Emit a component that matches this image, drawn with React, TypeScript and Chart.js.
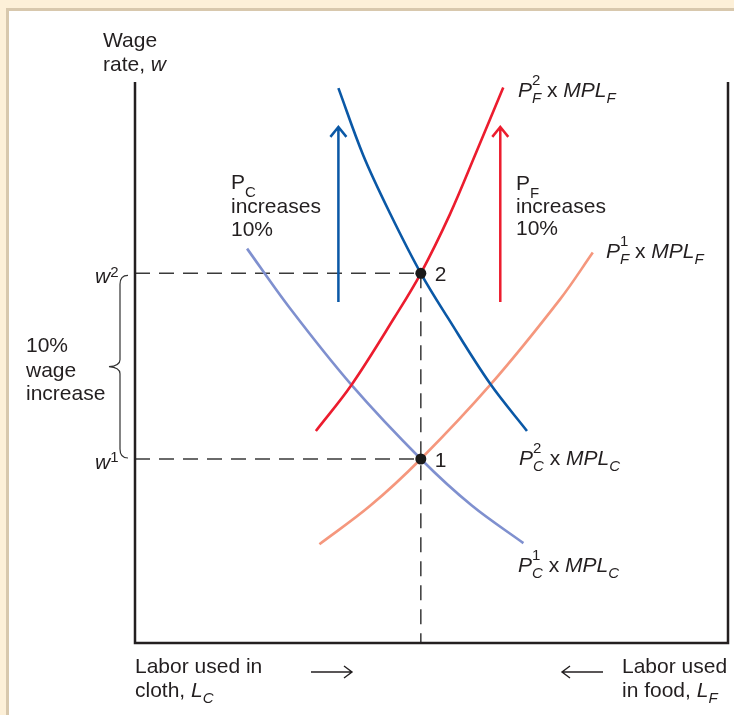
import React, { useEffect, useRef } from "react";
import { Chart, registerables } from "chart.js";

Chart.register(...registerables);

// Labor in cloth (x, 0-100 of total labor) vs wage rate (y, index 0-100)
const pc2X = [34.3, 38.5, 43.0, 48.2, 52.8, 59.9, 66.1];
const pc2Y = [98.9, 86.9, 76.6, 65.9, 57.9, 46.2, 37.8];
const pf2X = [30.5, 36.5, 43.8, 48.2, 53.1, 57.6, 62.1];
const pf2Y = [37.8, 46.0, 58.1, 65.9, 76.4, 87.6, 99.0];
const pc1X = [18.9, 26.1, 36.5, 48.2, 56.8, 65.5];
const pc1Y = [70.3, 59.7, 46.0, 32.8, 24.5, 17.8];
const pf1X = [31.1, 39.6, 48.2, 59.9, 71.7, 77.2];
const pf1Y = [17.6, 24.4, 32.8, 46.0, 61.3, 69.6];

const equilibriumL = 48.2;
const wageLevels = [32.8, 65.9]; // w1, w2
const pointLabels = ["1", "2"];

const shiftArrowX = [34.3, 61.6]; // PC arrow, PF arrow
const shiftArrowY = [60.8, 92.0]; // from, to

const FONT = '"Liberation Sans", Arial, Helvetica, sans-serif';
const FS = 21;
const FS_SMALL = 15;
const C_DARKBLUE = "#0a58a6";
const C_RED = "#ec1c2e";
const C_SALMON = "#f5977d";
const C_LIGHTBLUE = "#7f90cf";
const C_INK = "#231f20";

const toXY = (xs: number[], ys: number[]) => xs.map((x, i) => ({ x, y: ys[i] }));

type Part = { t: string; i?: boolean; dy?: number; s?: number; keep?: boolean };

function rich(ctx: CanvasRenderingContext2D, x: number, y: number, parts: Part[]) {
  let cx = x;
  for (const p of parts) {
    ctx.font = `${p.i ? "italic " : ""}${p.s || FS}px ${FONT}`;
    ctx.fillText(p.t, cx, y + (p.dy || 0));
    if (!p.keep) cx += ctx.measureText(p.t).width;
  }
}

const diagramPlugin = {
  id: "diagram",
  beforeDraw(chart: any) {
    const ctx = chart.ctx as CanvasRenderingContext2D;
    const W = chart.width, H = chart.height;
    ctx.save();
    ctx.fillStyle = "#fdf0d8";
    ctx.fillRect(0, 0, W, H);
    ctx.fillStyle = "#d8c8ad";
    ctx.fillRect(6, 8, W - 6, H - 8);
    ctx.fillStyle = "#ffffff";
    ctx.fillRect(9, 11, W - 9, H - 11);
    ctx.restore();
  },
  afterDraw(chart: any) {
    const ctx = chart.ctx as CanvasRenderingContext2D;
    const xs = chart.scales.x, ys = chart.scales.y;
    const a = chart.chartArea;
    ctx.save();
    // frame
    ctx.strokeStyle = C_INK;
    ctx.lineWidth = 2.5;
    ctx.beginPath();
    ctx.moveTo(a.left, a.top);
    ctx.lineTo(a.left, a.bottom);
    ctx.lineTo(a.right, a.bottom);
    ctx.lineTo(a.right, a.top);
    ctx.stroke();

    // shift arrows
    const arrowColors = [C_DARKBLUE, C_RED];
    shiftArrowX.forEach((vx, k) => {
      const px = xs.getPixelForValue(vx);
      const y0 = ys.getPixelForValue(shiftArrowY[0]);
      const y1 = ys.getPixelForValue(shiftArrowY[1]);
      ctx.strokeStyle = arrowColors[k];
      ctx.lineWidth = 2.5;
      ctx.beginPath();
      ctx.moveTo(px, y0);
      ctx.lineTo(px, y1);
      ctx.moveTo(px - 8, y1 + 10);
      ctx.lineTo(px, y1);
      ctx.lineTo(px + 8, y1 + 10);
      ctx.stroke();
    });

    // brace
    const bTop = ys.getPixelForValue(wageLevels[1]) + 2;
    const bBot = ys.getPixelForValue(wageLevels[0]) - 1;
    const bMid = (bTop + bBot) / 2;
    const bx = a.left - 15;
    ctx.strokeStyle = "#333";
    ctx.lineWidth = 1.2;
    ctx.beginPath();
    ctx.moveTo(bx + 8, bTop);
    ctx.quadraticCurveTo(bx, bTop, bx, bTop + 9);
    ctx.lineTo(bx, bMid - 7);
    ctx.quadraticCurveTo(bx, bMid - 1, bx - 11, bMid);
    ctx.quadraticCurveTo(bx, bMid + 1, bx, bMid + 7);
    ctx.lineTo(bx, bBot - 9);
    ctx.quadraticCurveTo(bx, bBot, bx + 8, bBot);
    ctx.stroke();

    // texts
    ctx.fillStyle = C_INK;
    ctx.textBaseline = "alphabetic";
    ctx.textAlign = "left";
    rich(ctx, 103, 47, [{ t: "Wage" }]);
    rich(ctx, 103, 71, [{ t: "rate, " }, { t: "w", i: true }]);

    const yw1 = ys.getPixelForValue(wageLevels[0]);
    const yw2 = ys.getPixelForValue(wageLevels[1]);
    rich(ctx, 95, yw2 + 10, [{ t: "w", i: true }, { t: "2", s: FS_SMALL, dy: -6 }]);
    rich(ctx, 95, yw1 + 10, [{ t: "w", i: true }, { t: "1", s: FS_SMALL, dy: -7 }]);

    rich(ctx, 26, 352, [{ t: "10%" }]);
    rich(ctx, 26, 377, [{ t: "wage" }]);
    rich(ctx, 26, 400, [{ t: "increase" }]);

    rich(ctx, 231, 189, [{ t: "P" }, { t: "C", s: FS_SMALL, dy: 8 }]);
    rich(ctx, 231, 213, [{ t: "increases" }]);
    rich(ctx, 231, 236, [{ t: "10%" }]);

    rich(ctx, 516, 190, [{ t: "P" }, { t: "F", s: FS_SMALL, dy: 8 }]);
    rich(ctx, 516, 213, [{ t: "increases" }]);
    rich(ctx, 516, 235, [{ t: "10%" }]);

    const curveLabel = (x: number, y: number, sup: string, sub: string) =>
      rich(ctx, x, y, [
        { t: "P", i: true },
        { t: sup, s: FS_SMALL, dy: -12, keep: true },
        { t: sub, i: true, s: FS_SMALL, dy: 6 },
        { t: " x " },
        { t: "MPL", i: true },
        { t: sub, i: true, s: FS_SMALL, dy: 6 },
      ]);
    curveLabel(518, 97, "2", "F");
    curveLabel(606, 258, "1", "F");
    curveLabel(519, 465, "2", "C");
    curveLabel(518, 572, "1", "C");

    // equilibrium labels
    const px = xs.getPixelForValue(equilibriumL);
    ctx.font = `${FS}px ${FONT}`;
    wageLevels.forEach((w, k) => {
      ctx.fillText(pointLabels[k], px + 14, ys.getPixelForValue(w) + 8);
    });

    // bottom axis labels
    rich(ctx, 135, 673, [{ t: "Labor used in" }]);
    rich(ctx, 135, 697, [{ t: "cloth, " }, { t: "L", i: true }, { t: "C", i: true, s: FS_SMALL, dy: 6 }]);
    rich(ctx, 622, 673, [{ t: "Labor used" }]);
    rich(ctx, 622, 697, [{ t: "in food, " }, { t: "L", i: true }, { t: "F", i: true, s: FS_SMALL, dy: 6 }]);

    ctx.strokeStyle = C_INK;
    ctx.lineWidth = 1.4;
    ctx.beginPath();
    ctx.moveTo(311, 672);
    ctx.lineTo(352, 672);
    ctx.moveTo(344, 666);
    ctx.lineTo(352, 672);
    ctx.lineTo(344, 678);
    ctx.moveTo(603, 672);
    ctx.lineTo(562, 672);
    ctx.moveTo(570, 666);
    ctx.lineTo(562, 672);
    ctx.lineTo(570, 678);
    ctx.stroke();
    ctx.restore();
  },
};

export default function App() {
  const ref = useRef<HTMLCanvasElement | null>(null);
  useEffect(() => {
    if (!ref.current) return;
    const curve = (data: any, color: string) => ({
      data,
      showLine: true,
      borderColor: color,
      borderWidth: 2.6,
      pointRadius: 0,
      tension: 0.35,
      fill: false,
      order: 1,
      clip: false as any,
    });
    const dash = (data: any) => ({
      data,
      showLine: true,
      borderColor: "#3a3a3a",
      borderWidth: 1.5,
      borderDash: [15, 9],
      pointRadius: 0,
      tension: 0,
      fill: false,
      order: 2,
    });
    const chart = new Chart(ref.current, {
      type: "scatter",
      data: {
        datasets: [
          {
            data: wageLevels.map((w) => ({ x: equilibriumL, y: w })),
            pointRadius: 5.5,
            pointBackgroundColor: "#1a1a1a",
            pointBorderWidth: 0,
            showLine: false,
            order: 0,
          } as any,
          curve(toXY(pc2X, pc2Y), C_DARKBLUE),
          curve(toXY(pf2X, pf2Y), C_RED),
          curve(toXY(pc1X, pc1Y), C_LIGHTBLUE),
          curve(toXY(pf1X, pf1Y), C_SALMON),
          dash([{ x: 0, y: wageLevels[1] }, { x: equilibriumL, y: wageLevels[1] }]),
          dash([{ x: 0, y: wageLevels[0] }, { x: equilibriumL, y: wageLevels[0] }]),
          dash([{ x: equilibriumL, y: wageLevels[1] }, { x: equilibriumL, y: 0 }]),
        ],
      },
      options: {
        responsive: false,
        animation: false,
        devicePixelRatio: 1,
        layout: { padding: { left: 135, right: 6, top: 82, bottom: 72 } },
        scales: {
          x: { type: "linear", min: 0, max: 100, display: false },
          y: { type: "linear", min: 0, max: 100, display: false },
        },
        plugins: { legend: { display: false }, tooltip: { enabled: false } },
        events: [],
      },
      plugins: [diagramPlugin],
    });
    return () => chart.destroy();
  }, []);
  return (
    <div style={{ position: "fixed", left: 0, top: 0, width: 734, height: 715 }}>
      <canvas ref={ref} width={734} height={715} style={{ display: "block" }} />
    </div>
  );
}
